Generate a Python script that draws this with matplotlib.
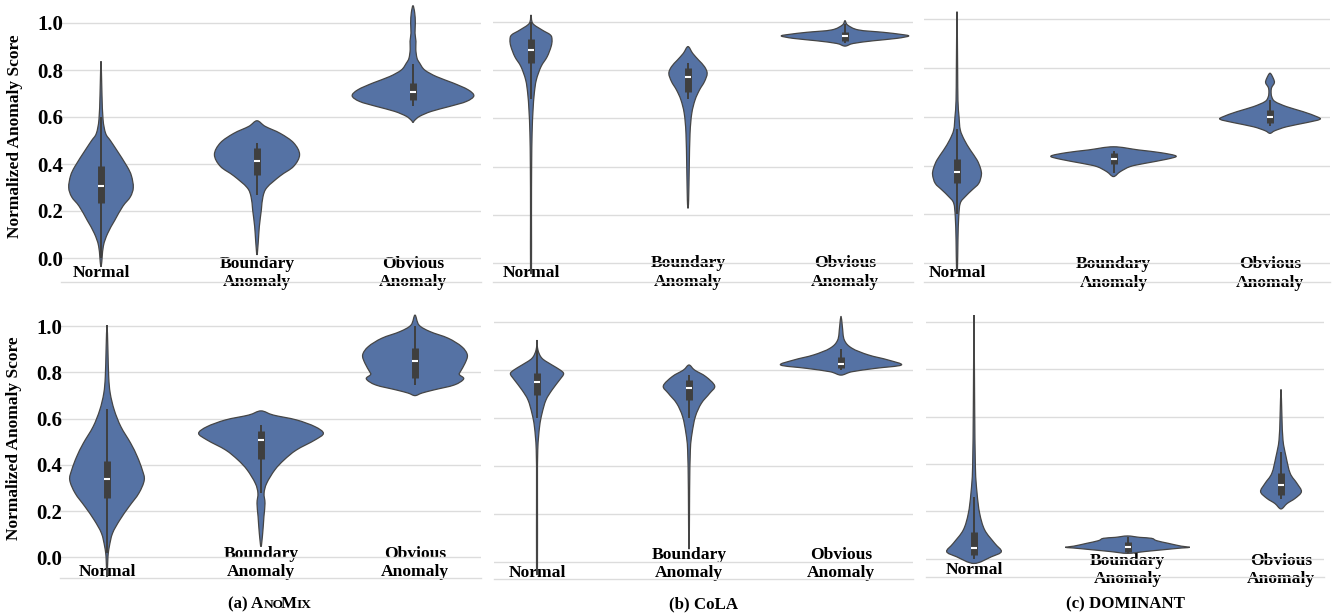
import numpy as np
import matplotlib.pyplot as plt
from matplotlib.path import Path
from matplotlib.patches import PathPatch

plt.rcParams['font.family'] = ['Liberation Serif', 'DejaVu Serif']
plt.rcParams['font.weight'] = 'bold'

categories = ['Normal', 'Boundary\nAnomaly', 'Obvious\nAnomaly']
yticks = [0.0, 0.2, 0.4, 0.6, 0.8, 1.0]
ylabel = 'Normalized Anomaly Score'

# violin outlines: score level -> half width (category units)
# box = [whisker low, q1, median, q3, whisker high]

# (a) AnoMix, top row
anomix_top_y = [
    [-0.037, 0.05, 0.105, 0.16, 0.22, 0.26, 0.30, 0.35, 0.39, 0.46, 0.50, 0.53, 0.59, 0.70, 0.837],
    [0.013, 0.077, 0.134, 0.205, 0.26, 0.30, 0.35, 0.39, 0.44, 0.49, 0.53, 0.56, 0.584],
    [0.577, 0.586, 0.603, 0.624, 0.645, 0.666, 0.69, 0.716, 0.745, 0.772, 0.80, 0.829, 0.85, 0.887, 0.922, 0.957, 1.0, 1.043, 1.074],
]
anomix_top_w = [
    [0, 0.015, 0.043, 0.088, 0.14, 0.188, 0.207, 0.195, 0.167, 0.10, 0.06, 0.03, 0.013, 0.006, 0],
    [0, 0.009, 0.015, 0.028, 0.038, 0.064, 0.15, 0.235, 0.273, 0.235, 0.15, 0.053, 0],
    [0, 0.011, 0.043, 0.118, 0.235, 0.342, 0.39, 0.353, 0.256, 0.15, 0.075, 0.043, 0.026, 0.018, 0.019, 0.013, 0.015, 0.011, 0],
]
anomix_top_box = [[0.0, 0.233, 0.308, 0.39, 0.6],
                  [0.27, 0.354, 0.413, 0.467, 0.49],
                  [0.645, 0.673, 0.706, 0.744, 0.825]]

# (b) CoLA, top row
cola_top_y = [
    [-0.02, 0.20, 0.40, 0.54, 0.634, 0.703, 0.759, 0.814, 0.855, 0.897, 0.924, 0.945, 0.966, 0.993, 1.028],
    [0.228, 0.262, 0.40, 0.538, 0.62, 0.676, 0.717, 0.752, 0.786, 0.814, 0.841, 0.869, 0.897],
    [0.899, 0.91, 0.921, 0.931, 0.941, 0.948, 0.956, 0.966, 0.986, 1.004],
]
cola_top_w = [
    [0.003, 0.003, 0.004, 0.007, 0.013, 0.021, 0.034, 0.064, 0.103, 0.128, 0.134, 0.124, 0.07, 0.011, 0],
    [0, 0.004, 0.008, 0.013, 0.024, 0.045, 0.073, 0.105, 0.122, 0.105, 0.068, 0.03, 0],
    [0, 0.053, 0.18, 0.33, 0.406, 0.35, 0.245, 0.085, 0.017, 0],
]
cola_top_box = [[0.68, 0.828, 0.883, 0.927, 1.0],
                [0.68, 0.71, 0.77, 0.807, 0.828],
                [0.91, 0.921, 0.941, 0.959, 0.99]]

# (c) DOMINANT, top row
dominant_top_y = [
    [-0.02, 0.095, 0.19, 0.246, 0.273, 0.30, 0.327, 0.362, 0.389, 0.423, 0.464, 0.505, 0.546, 0.60, 0.668, 0.805, 1.03],
    [0.355, 0.375, 0.396, 0.409, 0.426, 0.439, 0.453, 0.464, 0.477],
    [0.532, 0.543, 0.559, 0.576, 0.589, 0.60, 0.621, 0.641, 0.662, 0.682, 0.703, 0.72, 0.739, 0.757, 0.778],
]
dominant_top_w = [
    [0.003, 0.006, 0.011, 0.021, 0.053, 0.096, 0.139, 0.156, 0.15, 0.128, 0.085, 0.047, 0.021, 0.013, 0.006, 0.004, 0],
    [0, 0.043, 0.107, 0.2, 0.34, 0.40, 0.3, 0.16, 0],
    [0, 0.032, 0.107, 0.235, 0.318, 0.30, 0.21, 0.107, 0.032, 0.011, 0.007, 0.011, 0.028, 0.021, 0],
]
dominant_top_box = [[0.2, 0.33, 0.372, 0.426, 0.55],
                    [0.37, 0.407, 0.427, 0.45, 0.46],
                    [0.56, 0.576, 0.598, 0.628, 0.668]]

# (a) AnoMix, bottom row
anomix_bot_y = [
    [-0.084, 0.0, 0.046, 0.104, 0.161, 0.219, 0.277, 0.334, 0.378, 0.435, 0.493, 0.565, 0.637, 0.709, 0.781, 0.896, 1.004],
    [0.046, 0.104, 0.176, 0.233, 0.277, 0.32, 0.378, 0.421, 0.464, 0.507, 0.536, 0.565, 0.594, 0.615, 0.633],
    [0.699, 0.71, 0.724, 0.745, 0.771, 0.79, 0.803, 0.839, 0.875, 0.911, 0.947, 0.976, 1.004, 1.047],
]
anomix_bot_w = [
    [0, 0.006, 0.015, 0.036, 0.083, 0.143, 0.207, 0.242, 0.229, 0.197, 0.154, 0.09, 0.047, 0.021, 0.011, 0.006, 0],
    [0, 0.011, 0.019, 0.026, 0.02, 0.037, 0.09, 0.15, 0.23, 0.35, 0.405, 0.35, 0.23, 0.08, 0],
    [0, 0.045, 0.125, 0.255, 0.316, 0.288, 0.295, 0.325, 0.34, 0.303, 0.216, 0.097, 0.026, 0],
]
anomix_bot_box = [[0.02, 0.255, 0.337, 0.418, 0.64],
                  [0.28, 0.424, 0.507, 0.548, 0.57],
                  [0.745, 0.777, 0.849, 0.904, 1.0]]

# (b) CoLA, bottom row
cola_bot_y = [
    [-0.018, 0.30, 0.468, 0.565, 0.62, 0.676, 0.718, 0.76, 0.785, 0.801, 0.822, 0.85, 0.885, 0.926],
    [0.079, 0.30, 0.468, 0.537, 0.607, 0.662, 0.704, 0.735, 0.774, 0.801, 0.822],
    [0.78, 0.794, 0.808, 0.822, 0.843, 0.864, 0.892, 0.926, 0.982, 1.026],
]
cola_bot_w = [
    [0.003, 0.003, 0.005, 0.017, 0.033, 0.059, 0.099, 0.149, 0.175, 0.153, 0.099, 0.033, 0.006, 0],
    [0.002, 0.004, 0.009, 0.02, 0.042, 0.081, 0.136, 0.169, 0.11, 0.037, 0],
    [0, 0.072, 0.225, 0.397, 0.31, 0.18, 0.072, 0.022, 0.009, 0],
]
cola_bot_box = [[0.6, 0.697, 0.75, 0.79, 0.9],
                [0.6, 0.676, 0.725, 0.76, 0.78],
                [0.8, 0.808, 0.826, 0.854, 0.89]]

# (c) DOMINANT, bottom row
dominant_bot_y = [
    [-0.02, 0.008, 0.03, 0.065, 0.121, 0.191, 0.276, 0.388, 0.67, 1.028],
    [0.0225, 0.03, 0.037, 0.045, 0.048, 0.053, 0.065, 0.076, 0.086, 0.09, 0.096],
    [0.21, 0.233, 0.255, 0.283, 0.318, 0.36, 0.43, 0.5, 0.6, 0.714],
]
dominant_bot_w = [
    [0, 0.113, 0.178, 0.135, 0.07, 0.037, 0.02, 0.009, 0.004, 0],
    [0, 0.11, 0.22, 0.35, 0.406, 0.35, 0.265, 0.19, 0.157, 0.08, 0],
    [0, 0.04, 0.093, 0.133, 0.104, 0.06, 0.033, 0.013, 0.006, 0],
]
dominant_bot_box = [[0.0, 0.015, 0.044, 0.114, 0.26],
                    [0.025, 0.03, 0.048, 0.072, 0.09],
                    [0.25, 0.27, 0.312, 0.36, 0.45]]

violin_color = '#5572a4'
edge_color = '#454545'
grid_color = '#dcdcdc'


def violin_outline(xc, y, w):
    # closed outline through the read points, drawn as a smooth Catmull-Rom curve
    pts = [(xc + wj, yj) for yj, wj in zip(y, w)]
    pts += [(xc - wj, yj) for yj, wj in zip(y[::-1], w[::-1]) if wj > 0]
    P = np.array(pts, dtype=float)
    n = len(P)
    verts = [P[0]]
    codes = [Path.MOVETO]
    for k in range(n):
        p0, p1, p2, p3 = P[k - 1], P[k], P[(k + 1) % n], P[(k + 2) % n]
        c1 = p1 + (p2 - p0) / 6.0
        c2 = p2 - (p3 - p1) / 6.0
        verts += [c1, c2, p2]
        codes += [Path.CURVE4] * 3
    verts.append(P[0])
    codes.append(Path.CLOSEPOLY)
    return Path(verts, codes)


W, H = 1338, 614
fig = plt.figure(figsize=(W / 100, H / 100), dpi=100)

# pixel layout of each panel: left, right, top, bottom, x of cat 0, px per cat, y px of 0.0, y px of 1.0
panels = [
    (anomix_top_y, anomix_top_w, anomix_top_box, (61, 481, 2, 282, 101, 156, 258.0, 23.0), 'center', -6.5),
    (cola_top_y, cola_top_w, cola_top_box, (493, 913, 2, 281.7, 531, 157, 263.3, 21.7), 'center', -6.5),
    (dominant_top_y, dominant_top_w, dominant_top_box, (924, 1330, 2, 281.7, 957, 156.5, 263.3, 19.0), 'center', -6.0),
    (anomix_bot_y, anomix_bot_w, anomix_bot_box, (60, 481, 305, 577.7, 107, 154, 557.3, 326.0), 'bottom', 2.0),
    (cola_bot_y, cola_bot_w, cola_bot_box, (494, 913, 305, 579.3, 537, 152, 562.3, 322.3), 'bottom', 1.5),
    (dominant_bot_y, dominant_bot_w, dominant_bot_box, (926, 1324, 305, 577.3, 974, 153.5, 558.7, 321.7), 'center', -5.3),
]

for k, (ys, ws, boxes, lay, va, xpad) in enumerate(panels):
    l, r, t, b, x0, dx, y0, y1 = lay
    ax = fig.add_axes([l / W, 1 - b / H, (r - l) / W, (b - t) / H])
    s = y0 - y1
    ax.set_xlim((l - x0) / dx, (r - x0) / dx)
    ax.set_ylim(-(b - y0) / s, (y0 - t) / s)

    for i in range(3):
        outline = violin_outline(i, ys[i], ws[i])
        ax.add_patch(PathPatch(outline, facecolor=violin_color, edgecolor=edge_color,
                               linewidth=0.9, zorder=2))
        lo, q1, med, q3, hi = boxes[i]
        ax.vlines(i, lo, hi, color='#3f3f3f', linewidth=1.4, zorder=3)
        ax.vlines(i, q1, q3, color='#3f3f3f', linewidth=5, zorder=3)
        ax.plot([i], [med], marker='_', markersize=4.5, mew=1.5, color='white', zorder=4)

    ax.set_yticks(yticks)
    ax.grid(axis='y', color=grid_color, linewidth=1.0, zorder=0)
    ax.set_axisbelow(True)
    for sp in ['left', 'right', 'top']:
        ax.spines[sp].set_visible(False)
    ax.spines['bottom'].set_color(grid_color)
    ax.spines['bottom'].set_linewidth(1.0)

    ax.set_xticks([0, 1, 2])
    ax.set_xticklabels(categories, fontsize=12.6, fontweight='bold', va=va)
    ax.tick_params(axis='x', length=0, pad=xpad)
    ax.tick_params(axis='y', length=0, pad=-1.5)

    if k % 3 == 0:
        ax.set_yticklabels(['%.1f' % v for v in yticks], fontsize=15, fontweight='bold')
        ax.set_ylabel(ylabel, fontsize=12.5, fontweight='bold')
        ax.yaxis.set_label_coords(-0.09, 0.52 if k == 0 else 0.51)
    else:
        ax.set_yticklabels([])

# subplot captions, AnoMix in small caps; kern = px pulled back after each piece
big = dict(fontsize=12.2, fontweight='bold')
small = dict(fontsize=9.6, fontweight='bold')
captions = [
    ([('(a) A', big, 0.0), ('NO', small, 2.5), ('M', big, 0.0), ('IX', small, 0.0)], 270),
    ([('(b) CoLA', big, 0.0)], 704),
    ([('(c) DOMINANT', big, 0.0)], 1126),
]
fig.canvas.draw()
renderer = fig.canvas.get_renderer()
for parts, xc in captions:
    texts = [fig.text(0, 1 - 608.5 / H, s, ha='left', va='baseline', **p) for s, p, _ in parts]
    steps = [tx.get_window_extent(renderer).width - kn for tx, (_, _, kn) in zip(texts, parts)]
    x = xc - sum(steps) / 2
    for tx, st in zip(texts, steps):
        tx.set_x(x / W)
        x += st

fig.savefig('out.png', dpi=100)
